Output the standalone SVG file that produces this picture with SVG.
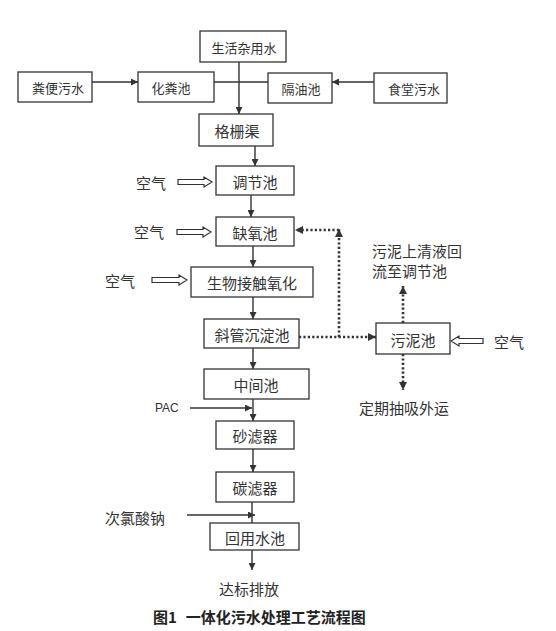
<svg xmlns="http://www.w3.org/2000/svg" width="556" height="631" viewBox="0 0 556 631">
<style>
.box{fill:#fff;stroke:#333;stroke-width:1.3}
.t{font-family:"Noto Sans CJK SC","Noto Sans",sans-serif;font-size:15px;fill:#333;text-anchor:middle;dominant-baseline:central}
.s{font-size:13px}
.ts{font-family:"Noto Sans CJK SC","Noto Sans",sans-serif;font-size:15px;fill:#333;dominant-baseline:central}
.ln{stroke:#333;stroke-width:1.4;fill:none}
.dot{stroke:#333;stroke-width:2.6;stroke-dasharray:2.2 2.2;fill:none}
.hol{fill:#fff;stroke:#333;stroke-width:1.2}
.cap{font-family:"Noto Sans CJK SC","Noto Sans",sans-serif;font-size:15px;font-weight:bold;fill:#222;dominant-baseline:central}
</style>
<defs>
<marker id="ah" viewBox="0 0 10 10" refX="10" refY="5" markerWidth="7" markerHeight="7" markerUnits="userSpaceOnUse" orient="auto"><path d="M0,0 L10,5 L0,10 Z" fill="#333"/></marker>
<marker id="ad" viewBox="0 0 10 10" refX="10" refY="5" markerWidth="8" markerHeight="8" markerUnits="userSpaceOnUse" orient="auto"><path d="M0,0 L10,5 L0,10 Z" fill="#333"/></marker>
</defs>
<rect width="556" height="631" fill="#fff"/>
<g id="connectors">
<line class="ln" x1="92" y1="82" x2="138" y2="82" marker-end="url(#ah)"/>
<line class="ln" x1="374" y1="82" x2="332" y2="82" marker-end="url(#ah)"/>
<line class="ln" x1="214" y1="82" x2="268" y2="82"/>
<line class="ln" x1="239" y1="62" x2="239" y2="114" marker-end="url(#ah)"/>
<line class="ln" x1="255" y1="146" x2="255" y2="166" marker-end="url(#ah)"/>
<line class="ln" x1="251" y1="195" x2="251" y2="217" marker-end="url(#ah)"/>
<line class="ln" x1="253" y1="246" x2="253" y2="267" marker-end="url(#ah)"/>
<line class="ln" x1="253" y1="297" x2="253" y2="319" marker-end="url(#ah)"/>
<line class="ln" x1="253" y1="348" x2="253" y2="369" marker-end="url(#ah)"/>
<line class="ln" x1="253" y1="399" x2="253" y2="421" marker-end="url(#ah)"/>
<line class="ln" x1="190" y1="408" x2="252" y2="408" marker-end="url(#ah)"/>
<line class="ln" x1="253" y1="449" x2="253" y2="472" marker-end="url(#ah)"/>
<line class="ln" x1="252" y1="502" x2="252" y2="523"/>
<line class="ln" x1="187" y1="515" x2="255" y2="515" marker-end="url(#ah)"/>
<line class="ln" x1="252" y1="550" x2="252" y2="570" stroke="#666" marker-end="url(#ah)"/>
<path class="dot" d="M299,337 H376" marker-end="url(#ad)"/>
<path class="dot" d="M339,337 V229" marker-end="url(#ad)"/>
<path class="dot" d="M339,230 H295" marker-end="url(#ad)"/>
<path class="dot" d="M403,323 V286" marker-end="url(#ad)"/>
<path class="dot" d="M403,354 V390" marker-end="url(#ad)"/>
<path class="hol" d="M178,179.5 H204 V177 L212,182 L204,187 V184.5 H178 Z"/>
<path class="hol" d="M177,229.5 H203 V227 L211,232 L203,237 V234.5 H177 Z"/>
<path class="hol" d="M152,277.5 H179 V275 L187,280 L179,285 V282.5 H152 Z"/>
<path class="hol" d="M483,338.5 H459 V336 L451,341 L459,346 V343.5 H483 Z"/>
</g>
<g id="n1"><rect class="box" x="200" y="31" width="86" height="31"/><text class="t s" x="244" y="47">生活杂用水</text></g>
<g id="n2"><rect class="box" x="18" y="72" width="74" height="30"/><text class="t s" x="58" y="87">粪便污水</text></g>
<g id="n3"><rect class="box" x="138" y="72" width="76" height="30"/><text class="t s" x="171" y="87">化粪池</text></g>
<g id="n4"><rect class="box" x="268" y="73" width="64" height="30"/><text class="t s" x="301" y="88">隔油池</text></g>
<g id="n5"><rect class="box" x="374" y="73" width="73" height="30"/><text class="t s" x="414" y="88">食堂污水</text></g>
<g id="n6"><rect class="box" x="199" y="114" width="74" height="32"/><text class="t" x="237" y="130">格栅渠</text></g>
<g id="n7"><rect class="box" x="216" y="166" width="78" height="29"/><text class="t" x="255" y="181">调节池</text></g>
<g id="n8"><rect class="box" x="216" y="217" width="78" height="29"/><text class="t" x="255" y="232">缺氧池</text></g>
<g id="n9"><rect class="box" x="191" y="267" width="122" height="30"/><text class="t" x="252" y="282">生物接触氧化</text></g>
<g id="n10"><rect class="box" x="204" y="319" width="95" height="29"/><text class="t" x="252" y="334">斜管沉淀池</text></g>
<g id="n11"><rect class="box" x="376" y="323" width="74" height="31"/><text class="t" x="413" y="339">污泥池</text></g>
<g id="n12"><rect class="box" x="204" y="369" width="105" height="30"/><text class="t" x="256" y="384">中间池</text></g>
<g id="n13"><rect class="box" x="216" y="421" width="78" height="28"/><text class="t" x="255" y="435">砂滤器</text></g>
<g id="n14"><rect class="box" x="216" y="472" width="78" height="30"/><text class="t" x="255" y="487">碳滤器</text></g>
<g id="n15"><rect class="box" x="210" y="523" width="89" height="27"/><text class="t" x="255" y="537">回用水池</text></g>
<g id="labels">
<text class="ts" x="136" y="182">空气</text>
<text class="ts" x="134" y="231">空气</text>
<text class="ts" x="105" y="280">空气</text>
<text class="ts" x="494" y="341">空气</text>
<text class="ts" x="372" y="250">污泥上清液回</text>
<text class="ts" x="372" y="270">流至调节池</text>
<text class="ts" x="359" y="407">定期抽吸外运</text>
<text class="ts" x="155" y="408" style="font-family:'Liberation Sans',sans-serif;font-size:12px">PAC</text>
<text class="ts" x="105" y="517">次氯酸钠</text>
<text class="t" x="249" y="588">达标排放</text>
<text class="cap" x="153" y="616">图1<tspan dx="9">一体化污水处理工艺流程图</tspan></text>
</g>
</svg>
